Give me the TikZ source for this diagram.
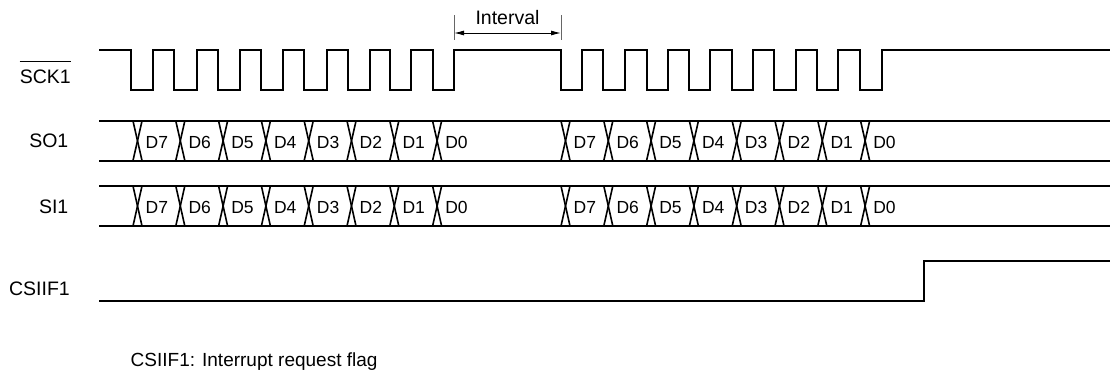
\documentclass[tikz,border=0pt]{standalone}
\usepackage{fontspec}
\setmainfont{Liberation Sans}
\usetikzlibrary{arrows.meta}
\begin{document}
\begin{tikzpicture}[x=1pt,y=-1pt,
  sig/.style={line width=2pt, line join=miter},
  xing/.style={line width=1.6pt},
  lbl/.style={inner sep=0pt, anchor=base east, font=\fontsize{19.5}{22}\selectfont},
  dlbl/.style={inner sep=0pt, anchor=base west, font=\fontsize{17.5}{20}\selectfont},
  note/.style={inner sep=0pt, anchor=base west, font=\fontsize{19}{22}\selectfont},
  bar/.style={line width=0.8pt, black!60},
  dim/.style={line width=1pt, {Latex[length=10pt,width=5pt]}-{Latex[length=10pt,width=5pt]}}
]
\useasboundingbox (0,0) rectangle (1110,372);

% ---- labels
\node[lbl] (sck) at (71,83.3) {SCK1};
\draw[line width=1pt] (sck.west |- 0,61.7) -- (sck.east |- 0,61.7);
\node[lbl] (so) at (68.5,147.7) {SO1};
\node[lbl] (si) at (68.5,213) {SI1};
\node[lbl] (csiif) at (70,295) {CSIIF1};
\node[note] (nt) at (130.5,366) {CSIIF1: Interrupt request flag};

% ---- clock
\draw[sig] (99,50)
  foreach \f/\r in {131/153,174/197,218/240,261/283,304/327,348/370,390/411,433/454,
                    561/582,603/625,647/668,689/710,732/753,774/796,817/838,860/882}
  { -- (\f,50) -- (\f,90) -- (\r,90) -- (\r,50) } -- (1110,50);

% ---- interval
\coordinate (ia) at (454,33);
\coordinate (ib) at (561,33);
\draw[bar] (454,15) -- (454,40);
\draw[bar] (561,15) -- (561,40);
\draw[dim] (ia) -- (ib);
\node[inner sep=0pt, anchor=base, font=\fontsize{19.5}{22}\selectfont] (iv) at (507.5,24) {Interval};

% ---- data rows
\foreach \row/\top/\bot in {so/121/160.5, si/186/226}{
  \draw[sig] (99,\top) -- (1110,\top);
  \draw[sig] (99,\bot) -- (1110,\bot);
  \foreach \base/\bn in {137.5/a, 565.5/b}{
    \foreach \k in {0,...,7}{
      \pgfmathsetmacro\c{\base+42.8*\k}
      \pgfmathtruncatemacro\d{7-\k}
      \draw[xing] (\c-4.5,\top) -- (\c+4.5,\bot);
      \draw[xing] (\c-4.5,\bot) -- (\c+4.5,\top);
      \node[dlbl] (\row-\bn-\k) at (\c+8,{(\top+\bot)/2+7.3}) {D\d};
    }
  }
}

% ---- CSIIF1
\draw[sig] (99,301) -- (924,301) -- (924,260.7) -- (1110,260.7);
\end{tikzpicture}
\end{document}
